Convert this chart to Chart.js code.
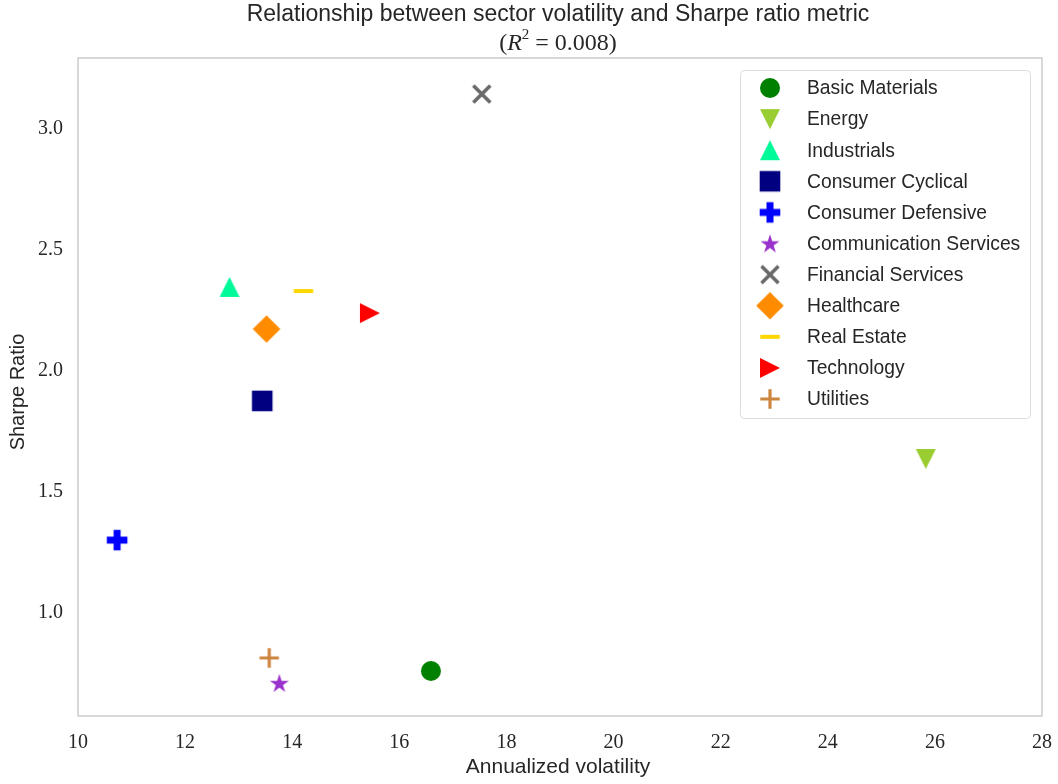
<!DOCTYPE html>
<html><head><meta charset="utf-8">
<script src="https://cdn.jsdelivr.net/npm/chart.js@4.4.1/dist/chart.umd.min.js"></script>
<style>html,body{margin:0;padding:0;background:#fff;overflow:hidden}#wrap{width:1058px;height:784px;position:relative}</style>
</head><body><div id="wrap"><canvas id="c"></canvas></div>
<script>
// ---- data ----
const sectors = ['Basic Materials','Energy','Industrials','Consumer Cyclical','Consumer Defensive','Communication Services','Financial Services','Healthcare','Real Estate','Technology','Utilities'];
const volatility = [16.59, 25.83, 12.83, 13.44, 10.73, 13.76, 17.54, 13.52, 14.21, 15.45, 13.57];
const sharpe = [0.752, 1.628, 2.339, 1.868, 1.293, 0.702, 3.136, 2.165, 2.322, 2.231, 0.806];
const xTicks = [10, 12, 14, 16, 18, 20, 22, 24, 26, 28];
const yTicks = [1.0, 1.5, 2.0, 2.5, 3.0];
const titleLine1 = 'Relationship between sector volatility and Sharpe ratio metric';
const rSquared = '0.008';
const xTitle = 'Annualized volatility';
const yTitle = 'Sharpe Ratio';

// ---- styles ----
const markerColors = ['#008000','#9ACD32','#00FA9A','#000080','#0000FF','#9932CC','#696969','#FF8C00','#FFD700','#FF0000','#CD853F'];
const markerKinds = ['circle','triDown','triUp','square','plusFilled','star','x','diamond','hline','triRight','plus'];
const TEXT = '#262626';
const SANS = '"Liberation Sans", sans-serif';
const SERIF = '"Liberation Serif", serif';

function makeMarker(kind, color) {
  const s = 32, c = 16;
  const cv = document.createElement('canvas');
  cv.width = s; cv.height = s;
  const g = cv.getContext('2d');
  g.fillStyle = color; g.strokeStyle = color;
  g.beginPath();
  switch (kind) {
    case 'circle': g.arc(c, c, 10, 0, Math.PI * 2); g.fill(); break;
    case 'triUp': g.moveTo(c, c - 10); g.lineTo(c + 10, c + 10); g.lineTo(c - 10, c + 10); g.closePath(); g.fill(); break;
    case 'triDown': g.moveTo(c, c + 10); g.lineTo(c + 10, c - 10); g.lineTo(c - 10, c - 10); g.closePath(); g.fill(); break;
    case 'triRight': g.moveTo(c + 10, c); g.lineTo(c - 10, c - 10); g.lineTo(c - 10, c + 10); g.closePath(); g.fill(); break;
    case 'square': g.rect(c - 10.3, c - 10.3, 20.6, 20.6); g.fill(); break;
    case 'diamond': g.moveTo(c, c - 13.8); g.lineTo(c + 13.8, c); g.lineTo(c, c + 13.8); g.lineTo(c - 13.8, c); g.closePath(); g.fill(); break;
    case 'plusFilled': {
      const a = 10.3, t = 3.5;
      g.moveTo(c - t, c - a); g.lineTo(c + t, c - a); g.lineTo(c + t, c - t); g.lineTo(c + a, c - t);
      g.lineTo(c + a, c + t); g.lineTo(c + t, c + t); g.lineTo(c + t, c + a); g.lineTo(c - t, c + a);
      g.lineTo(c - t, c + t); g.lineTo(c - a, c + t); g.lineTo(c - a, c - t); g.lineTo(c - t, c - t);
      g.closePath(); g.fill(); break;
    }
    case 'plus': g.lineWidth = 3.2; g.moveTo(c - 9.7, c); g.lineTo(c + 9.7, c); g.moveTo(c, c - 9.7); g.lineTo(c, c + 9.7); g.stroke(); break;
    case 'x': g.lineWidth = 3.6; g.moveTo(c - 8.5, c - 8.5); g.lineTo(c + 8.5, c + 8.5); g.moveTo(c + 8.5, c - 8.5); g.lineTo(c - 8.5, c + 8.5); g.stroke(); break;
    case 'hline': g.rect(c - 9.7, c - 2, 19.4, 4); g.fill(); break;
    case 'star': {
      const R = 10, r = R * 0.381966;
      for (let i = 0; i < 10; i++) {
        const rad = (i % 2 === 0) ? R : r;
        const ang = -Math.PI / 2 + i * Math.PI / 5;
        const px = c + rad * Math.cos(ang), py = c + 0.8 + rad * Math.sin(ang);
        if (i === 0) g.moveTo(px, py); else g.lineTo(px, py);
      }
      g.closePath(); g.fill(); break;
    }
  }
  return cv;
}

const markers = markerKinds.map((k, i) => makeMarker(k, markerColors[i]));

const datasets = sectors.map((name, i) => ({
  label: name,
  data: [{ x: volatility[i], y: sharpe[i] }],
  pointStyle: markers[i],
  pointRadius: 10,
  pointHoverRadius: 10,
  backgroundColor: markerColors[i],
  borderColor: markerColors[i]
}));

const decor = {
  id: 'decor',
  beforeDatasetsDraw(chart) {
    const { ctx, chartArea: a } = chart;
    ctx.save();
    ctx.strokeStyle = '#cccccc';
    ctx.lineWidth = 1.5;
    ctx.strokeRect(a.left, a.top, a.right - a.left, a.bottom - a.top);
    ctx.restore();
  },
  afterDraw(chart) {
    const { ctx, chartArea: a } = chart;
    const cx = (a.left + a.right) / 2 - 2;
    ctx.save();
    ctx.fillStyle = TEXT;
    ctx.textAlign = 'center';
    ctx.textBaseline = 'middle';
    // title line 1
    ctx.font = '23px ' + SANS;
    ctx.fillText(titleLine1, cx, 15);
    // title line 2: (R^2 = 0.008)
    const parts = [
      { t: '(', f: '24px ' + SERIF, dy: 0 },
      { t: 'R', f: 'italic 24px ' + SERIF, dy: 0 },
      { t: '2', f: '15px ' + SERIF, dy: -9 },
      { t: ' = ' + rSquared + ')', f: '24px ' + SERIF, dy: 0 }
    ];
    let total = 0;
    parts.forEach(p => { ctx.font = p.f; p.w = ctx.measureText(p.t).width; total += p.w; });
    let x = cx - total / 2;
    ctx.textAlign = 'left';
    parts.forEach(p => { ctx.font = p.f; ctx.fillText(p.t, x, 44 + p.dy); x += p.w; });
    // axis titles
    ctx.textAlign = 'center';
    ctx.font = '21px ' + SANS;
    ctx.fillText(xTitle, cx, 767);
    ctx.save();
    ctx.font = '20px ' + SANS;
    ctx.translate(18, 392);
    ctx.rotate(-Math.PI / 2);
    ctx.fillText(yTitle, 0, 0);
    ctx.restore();
    // legend
    const lx = 740.5, ly = 70.5, lw = 290, lh = 348;
    ctx.beginPath();
    if (ctx.roundRect) ctx.roundRect(lx, ly, lw, lh, 4); else ctx.rect(lx, ly, lw, lh);
    ctx.fillStyle = 'rgba(255,255,255,0.8)';
    ctx.fill();
    ctx.strokeStyle = '#dddddd';
    ctx.lineWidth = 1;
    ctx.stroke();
    ctx.font = '19.3px ' + SANS;
    ctx.textAlign = 'left';
    ctx.fillStyle = TEXT;
    chart.data.datasets.forEach((ds, i) => {
      const y = 88 + i * 31.1;
      Chart.helpers.drawPoint(ctx, { pointStyle: ds.pointStyle, radius: 10, rotation: 0, borderWidth: 0 }, 770, y);
      ctx.fillStyle = TEXT;
      ctx.fillText(ds.label, 807, y + 1);
    });
    ctx.restore();
  }
};

new Chart(document.getElementById('c'), {
  type: 'scatter',
  data: { datasets },
  options: {
    responsive: true,
    maintainAspectRatio: false,
    animation: false,
    events: [],
    layout: { padding: { top: 58, right: 16, left: 0, bottom: 0 } },
    plugins: { legend: { display: false }, title: { display: false }, tooltip: { enabled: false } },
    scales: {
      x: {
        type: 'linear', min: 10, max: 28,
        grid: { display: false, drawTicks: false },
        border: { display: false },
        afterFit(s) { s.height = 68; s.paddingLeft = 0; s.paddingRight = 0; },
        afterBuildTicks(s) { s.ticks = xTicks.map(v => ({ value: v })); },
        ticks: { color: TEXT, padding: 15, maxRotation: 0, font: { family: SERIF, size: 20 }, callback: v => String(v) }
      },
      y: {
        type: 'linear', min: 0.566, max: 3.285,
        grid: { display: false, drawTicks: false },
        border: { display: false },
        afterFit(s) { s.width = 78; s.paddingTop = 0; s.paddingBottom = 0; },
        afterBuildTicks(s) { s.ticks = yTicks.map(v => ({ value: v })); },
        ticks: { color: TEXT, padding: 15, labelOffset: 2, font: { family: SERIF, size: 20 }, callback: v => Number(v).toFixed(1) }
      }
    }
  },
  plugins: [decor]
});
</script>
</body></html>
